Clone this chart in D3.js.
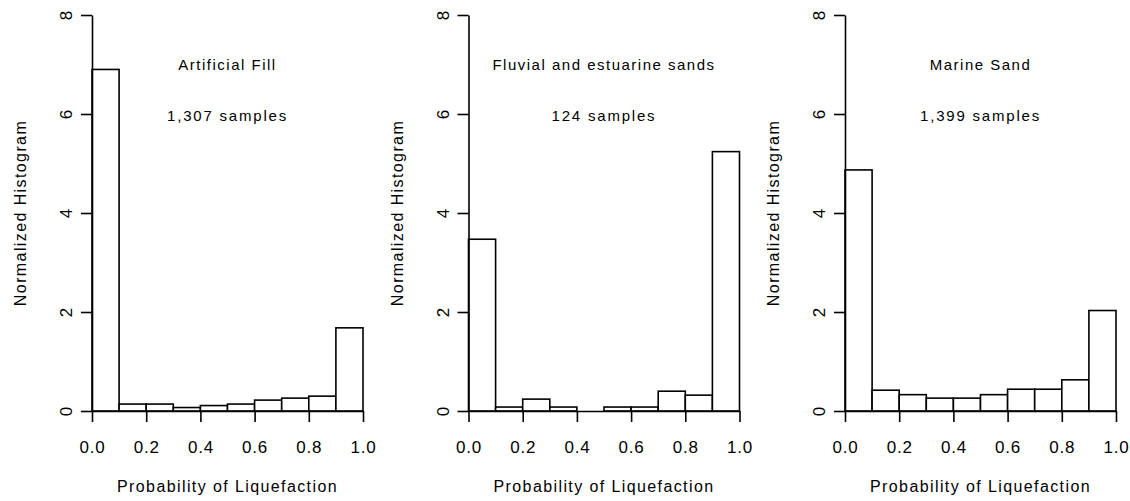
<!DOCTYPE html>
<html>
<head>
<meta charset="utf-8">
<script src="https://cdn.jsdelivr.net/npm/d3@7/dist/d3.min.js"></script>
<style>
  body { margin: 0; background: #fff; }
  text { font-family: "Liberation Sans", Arial, sans-serif; fill: #000; }
</style>
</head>
<body>
<svg width="1130" height="501"></svg>
<script>
// Bin edges of the histograms (probability of liquefaction)
const binEdges = [0, 0.1, 0.2, 0.3, 0.4, 0.5, 0.6, 0.7, 0.8, 0.9, 1.0];

// Normalized histogram heights, one per bin
const fillDensity    = [6.90, 0.14, 0.14, 0.07, 0.11, 0.14, 0.22, 0.26, 0.30, 1.68];
const fluvialDensity = [3.47, 0.08, 0.24, 0.08, 0.00, 0.08, 0.08, 0.40, 0.32, 5.24];
const marineDensity  = [4.87, 0.42, 0.33, 0.26, 0.26, 0.33, 0.44, 0.44, 0.63, 2.03];

const panelTitles  = ['Artificial Fill', 'Fluvial and estuarine sands', 'Marine Sand'];
const panelSamples = ['1,307 samples', '124 samples', '1,399 samples'];
const panelSeries  = [fillDensity, fluvialDensity, marineDensity];

const xTicks = [0, 0.2, 0.4, 0.6, 0.8, 1.0];
const yTicks = [0, 2, 4, 6, 8];

const xLabel = 'Probability of Liquefaction';
const yLabel = 'Normalized Histogram';

const svg = d3.select('svg');

// layout of one panel
const plotLeft = 92;
const panelStep = 376.5;
const plotWidth = 271;
const plotTop = 15;
const plotBottom = 411;

const y = d3.scaleLinear().domain([0, 8]).range([plotBottom, plotTop]);

panelSeries.forEach((values, i) => {
  const left = plotLeft + i * panelStep;
  const x = d3.scaleLinear().domain([0, 1]).range([0, plotWidth]);

  const g = svg.append('g').attr('transform', `translate(${left},0)`);

  // bars
  g.selectAll('rect')
    .data(values)
    .join('rect')
      .attr('x', (d, j) => x(binEdges[j]))
      .attr('width', (d, j) => x(binEdges[j + 1]) - x(binEdges[j]))
      .attr('y', d => y(d))
      .attr('height', d => y(0) - y(d))
      .attr('fill', '#fff')
      .attr('stroke', '#000')
      .attr('stroke-width', 1.6);

  // x axis
  const xAxisG = g.append('g')
    .attr('transform', `translate(0,${y(0)})`)
    .call(d3.axisBottom(x).tickValues(xTicks).tickFormat(d3.format('.1f'))
      .tickSizeInner(11).tickSizeOuter(0));
  xAxisG.select('.domain').attr('stroke-width', 1.6);
  xAxisG.selectAll('.tick line').attr('stroke-width', 1.6);
  xAxisG.selectAll('.tick text')
    .attr('y', 0)
    .attr('dy', 0)
    .attr('transform', 'translate(0,42)')
    .style('font-size', '17px')
    .style('letter-spacing', '0.8px')
    .style('font-family', '"Liberation Sans", Arial, sans-serif');

  // y axis
  const yAxisG = g.append('g')
    .call(d3.axisLeft(y).tickValues(yTicks).tickFormat(d3.format('d'))
      .tickSizeInner(11).tickSizeOuter(0));
  yAxisG.select('.domain').attr('stroke-width', 1.6);
  yAxisG.selectAll('.tick line').attr('stroke-width', 1.6);
  yAxisG.selectAll('.tick text')
    .attr('x', 0)
    .attr('dy', 0)
    .attr('text-anchor', 'middle')
    .attr('transform', 'translate(-20,0) rotate(-90)')
    .style('font-size', '17px')
    .style('font-family', '"Liberation Sans", Arial, sans-serif');

  // axis titles
  g.append('text')
    .attr('x', plotWidth / 2)
    .attr('y', 492)
    .attr('text-anchor', 'middle')
    .style('font-size', '16px')
    .style('letter-spacing', '1.4px')
    .text(xLabel);

  g.append('text')
    .attr('transform', `translate(-66,${(plotTop + plotBottom) / 2}) rotate(-90)`)
    .attr('text-anchor', 'middle')
    .style('font-size', '16px')
    .style('letter-spacing', '1.4px')
    .text(yLabel);

  // panel annotations
  g.append('text')
    .attr('x', plotWidth / 2)
    .attr('y', 70)
    .attr('text-anchor', 'middle')
    .style('font-size', '15px')
    .style('letter-spacing', '1.5px')
    .text(panelTitles[i]);

  g.append('text')
    .attr('x', plotWidth / 2)
    .attr('y', 121)
    .attr('text-anchor', 'middle')
    .style('font-size', '15px')
    .style('letter-spacing', '1.8px')
    .text(panelSamples[i]);
});
</script>
</body>
</html>
